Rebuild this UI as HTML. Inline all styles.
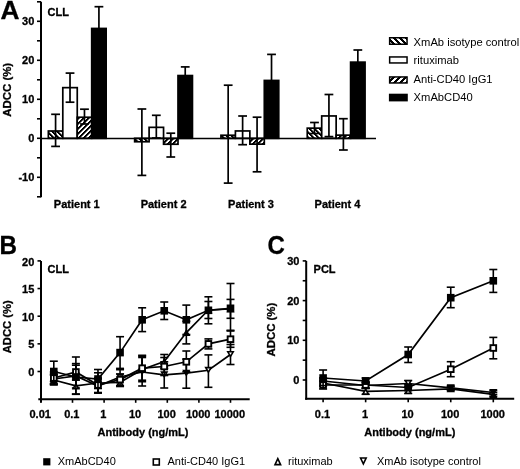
<!DOCTYPE html>
<html><head><meta charset="utf-8"><style>
html,body{margin:0;padding:0;background:#fff;}
svg{display:block;will-change:transform;}
text{font-family:"Liberation Sans", sans-serif;fill:#000;}
text[font-weight="bold"]{stroke:#000;stroke-width:0.3px;}
</style></head><body>
<svg width="520" height="469" viewBox="0 0 520 469">
<defs><pattern id="hb" patternUnits="userSpaceOnUse" x="0" y="0" width="5" height="5"><rect width="5" height="5" fill="#fff"/><rect x="-5" y="0" width="2.6" height="1" fill="#000"/><rect x="0" y="0" width="2.6" height="1" fill="#000"/><rect x="-4" y="1" width="2.6" height="1" fill="#000"/><rect x="1" y="1" width="2.6" height="1" fill="#000"/><rect x="-3" y="2" width="2.6" height="1" fill="#000"/><rect x="2" y="2" width="2.6" height="1" fill="#000"/><rect x="-2" y="3" width="2.6" height="1" fill="#000"/><rect x="3" y="3" width="2.6" height="1" fill="#000"/><rect x="-1" y="4" width="2.6" height="1" fill="#000"/><rect x="4" y="4" width="2.6" height="1" fill="#000"/></pattern><pattern id="hf" patternUnits="userSpaceOnUse" x="0" y="0" width="5" height="5"><rect width="5" height="5" fill="#fff"/><rect x="-5" y="0" width="2.6" height="1" fill="#000"/><rect x="0" y="0" width="2.6" height="1" fill="#000"/><rect x="-1" y="1" width="2.6" height="1" fill="#000"/><rect x="4" y="1" width="2.6" height="1" fill="#000"/><rect x="-2" y="2" width="2.6" height="1" fill="#000"/><rect x="3" y="2" width="2.6" height="1" fill="#000"/><rect x="-3" y="3" width="2.6" height="1" fill="#000"/><rect x="2" y="3" width="2.6" height="1" fill="#000"/><rect x="-4" y="4" width="2.6" height="1" fill="#000"/><rect x="1" y="4" width="2.6" height="1" fill="#000"/></pattern><pattern id="lb" patternUnits="userSpaceOnUse" x="1" y="0" width="6" height="6"><rect width="6" height="6" fill="#fff"/><rect x="-6" y="0" width="3" height="1" fill="#000"/><rect x="0" y="0" width="3" height="1" fill="#000"/><rect x="-5" y="1" width="3" height="1" fill="#000"/><rect x="1" y="1" width="3" height="1" fill="#000"/><rect x="-4" y="2" width="3" height="1" fill="#000"/><rect x="2" y="2" width="3" height="1" fill="#000"/><rect x="-3" y="3" width="3" height="1" fill="#000"/><rect x="3" y="3" width="3" height="1" fill="#000"/><rect x="-2" y="4" width="3" height="1" fill="#000"/><rect x="4" y="4" width="3" height="1" fill="#000"/><rect x="-1" y="5" width="3" height="1" fill="#000"/><rect x="5" y="5" width="3" height="1" fill="#000"/></pattern><pattern id="lf" patternUnits="userSpaceOnUse" x="1" y="0" width="6" height="6"><rect width="6" height="6" fill="#fff"/><rect x="-6" y="0" width="3" height="1" fill="#000"/><rect x="0" y="0" width="3" height="1" fill="#000"/><rect x="-1" y="1" width="3" height="1" fill="#000"/><rect x="5" y="1" width="3" height="1" fill="#000"/><rect x="-2" y="2" width="3" height="1" fill="#000"/><rect x="4" y="2" width="3" height="1" fill="#000"/><rect x="-3" y="3" width="3" height="1" fill="#000"/><rect x="3" y="3" width="3" height="1" fill="#000"/><rect x="-4" y="4" width="3" height="1" fill="#000"/><rect x="2" y="4" width="3" height="1" fill="#000"/><rect x="-5" y="5" width="3" height="1" fill="#000"/><rect x="1" y="5" width="3" height="1" fill="#000"/></pattern></defs>
<rect width="520" height="469" fill="#fff"/>
<text x="0.30" y="18.90" font-size="25.5" font-weight="bold" text-anchor="start" transform="translate(0.3,0) scale(1.03,1)">A</text>
<text x="47.60" y="15.80" font-size="11" font-weight="bold" text-anchor="start" >CLL</text>
<line x1="41.00" y1="1.80" x2="41.00" y2="197.30" stroke="#000" stroke-width="2.0"/>
<line x1="37.00" y1="1.80" x2="41.00" y2="1.80" stroke="#000" stroke-width="1.6"/>
<line x1="37.00" y1="21.30" x2="41.00" y2="21.30" stroke="#000" stroke-width="1.6"/>
<line x1="37.00" y1="40.80" x2="41.00" y2="40.80" stroke="#000" stroke-width="1.6"/>
<line x1="37.00" y1="60.30" x2="41.00" y2="60.30" stroke="#000" stroke-width="1.6"/>
<line x1="37.00" y1="79.80" x2="41.00" y2="79.80" stroke="#000" stroke-width="1.6"/>
<line x1="37.00" y1="99.30" x2="41.00" y2="99.30" stroke="#000" stroke-width="1.6"/>
<line x1="37.00" y1="118.80" x2="41.00" y2="118.80" stroke="#000" stroke-width="1.6"/>
<line x1="37.00" y1="138.30" x2="41.00" y2="138.30" stroke="#000" stroke-width="1.6"/>
<line x1="37.00" y1="157.80" x2="41.00" y2="157.80" stroke="#000" stroke-width="1.6"/>
<line x1="37.00" y1="177.30" x2="41.00" y2="177.30" stroke="#000" stroke-width="1.6"/>
<line x1="37.00" y1="196.80" x2="41.00" y2="196.80" stroke="#000" stroke-width="1.6"/>
<text x="34.30" y="25.20" font-size="11" font-weight="bold" text-anchor="end" >30</text>
<text x="34.30" y="64.20" font-size="11" font-weight="bold" text-anchor="end" >20</text>
<text x="34.30" y="103.20" font-size="11" font-weight="bold" text-anchor="end" >10</text>
<text x="34.30" y="142.20" font-size="11" font-weight="bold" text-anchor="end" >0</text>
<text x="34.30" y="181.20" font-size="11" font-weight="bold" text-anchor="end" >-10</text>
<text transform="translate(10.8,89.8) rotate(-90)" font-size="11.4" font-weight="bold" text-anchor="middle">ADCC (%)</text>
<rect x="48.35" y="131.00" width="14.45" height="7.30" fill="url(#hb)" stroke="#000" stroke-width="1.7"/>
<rect x="62.80" y="87.65" width="14.45" height="50.65" fill="#fff" stroke="#000" stroke-width="1.7"/>
<rect x="77.25" y="117.25" width="14.45" height="21.05" fill="url(#hf)" stroke="#000" stroke-width="1.7"/>
<rect x="91.70" y="28.45" width="14.45" height="109.85" fill="#000" stroke="#000" stroke-width="1.7"/>
<rect x="134.65" y="138.30" width="14.45" height="3.45" fill="url(#hb)" stroke="#000" stroke-width="1.7"/>
<rect x="149.10" y="127.35" width="14.45" height="10.95" fill="#fff" stroke="#000" stroke-width="1.7"/>
<rect x="163.55" y="138.30" width="14.45" height="5.95" fill="url(#hf)" stroke="#000" stroke-width="1.7"/>
<rect x="178.00" y="75.55" width="14.45" height="62.75" fill="#000" stroke="#000" stroke-width="1.7"/>
<rect x="220.95" y="135.25" width="14.45" height="3.05" fill="url(#hb)" stroke="#000" stroke-width="1.7"/>
<rect x="235.40" y="130.95" width="14.45" height="7.35" fill="#fff" stroke="#000" stroke-width="1.7"/>
<rect x="249.85" y="138.30" width="14.45" height="5.85" fill="url(#hf)" stroke="#000" stroke-width="1.7"/>
<rect x="264.30" y="80.45" width="14.45" height="57.85" fill="#000" stroke="#000" stroke-width="1.7"/>
<rect x="307.25" y="128.15" width="14.45" height="10.15" fill="url(#hb)" stroke="#000" stroke-width="1.7"/>
<rect x="321.70" y="115.95" width="14.45" height="22.35" fill="#fff" stroke="#000" stroke-width="1.7"/>
<rect x="336.15" y="135.15" width="14.45" height="3.15" fill="url(#hf)" stroke="#000" stroke-width="1.7"/>
<rect x="350.60" y="62.15" width="14.45" height="76.15" fill="#000" stroke="#000" stroke-width="1.7"/>
<line x1="55.58" y1="114.30" x2="55.58" y2="146.40" stroke="#000" stroke-width="1.7"/>
<line x1="51.18" y1="114.30" x2="59.98" y2="114.30" stroke="#000" stroke-width="1.7"/>
<line x1="51.18" y1="146.40" x2="59.98" y2="146.40" stroke="#000" stroke-width="1.7"/>
<line x1="70.02" y1="73.10" x2="70.02" y2="102.20" stroke="#000" stroke-width="1.7"/>
<line x1="65.62" y1="73.10" x2="74.42" y2="73.10" stroke="#000" stroke-width="1.7"/>
<line x1="65.62" y1="102.20" x2="74.42" y2="102.20" stroke="#000" stroke-width="1.7"/>
<line x1="84.47" y1="109.20" x2="84.47" y2="124.00" stroke="#000" stroke-width="1.7"/>
<line x1="80.07" y1="109.20" x2="88.88" y2="109.20" stroke="#000" stroke-width="1.7"/>
<line x1="80.07" y1="124.00" x2="88.88" y2="124.00" stroke="#000" stroke-width="1.7"/>
<line x1="98.92" y1="6.70" x2="98.92" y2="50.00" stroke="#000" stroke-width="1.7"/>
<line x1="94.52" y1="6.70" x2="103.32" y2="6.70" stroke="#000" stroke-width="1.7"/>
<line x1="94.52" y1="50.00" x2="103.32" y2="50.00" stroke="#000" stroke-width="1.7"/>
<line x1="141.88" y1="109.00" x2="141.88" y2="175.40" stroke="#000" stroke-width="1.7"/>
<line x1="137.47" y1="109.00" x2="146.28" y2="109.00" stroke="#000" stroke-width="1.7"/>
<line x1="137.47" y1="175.40" x2="146.28" y2="175.40" stroke="#000" stroke-width="1.7"/>
<line x1="156.32" y1="115.30" x2="156.32" y2="138.00" stroke="#000" stroke-width="1.7"/>
<line x1="151.92" y1="115.30" x2="160.72" y2="115.30" stroke="#000" stroke-width="1.7"/>
<line x1="151.92" y1="138.00" x2="160.72" y2="138.00" stroke="#000" stroke-width="1.7"/>
<line x1="170.78" y1="133.20" x2="170.78" y2="157.00" stroke="#000" stroke-width="1.7"/>
<line x1="166.38" y1="133.20" x2="175.18" y2="133.20" stroke="#000" stroke-width="1.7"/>
<line x1="166.38" y1="157.00" x2="175.18" y2="157.00" stroke="#000" stroke-width="1.7"/>
<line x1="185.22" y1="66.90" x2="185.22" y2="83.00" stroke="#000" stroke-width="1.7"/>
<line x1="180.82" y1="66.90" x2="189.62" y2="66.90" stroke="#000" stroke-width="1.7"/>
<line x1="180.82" y1="83.00" x2="189.62" y2="83.00" stroke="#000" stroke-width="1.7"/>
<line x1="228.17" y1="85.20" x2="228.17" y2="183.10" stroke="#000" stroke-width="1.7"/>
<line x1="223.77" y1="85.20" x2="232.57" y2="85.20" stroke="#000" stroke-width="1.7"/>
<line x1="223.77" y1="183.10" x2="232.57" y2="183.10" stroke="#000" stroke-width="1.7"/>
<line x1="242.62" y1="116.00" x2="242.62" y2="144.70" stroke="#000" stroke-width="1.7"/>
<line x1="238.22" y1="116.00" x2="247.02" y2="116.00" stroke="#000" stroke-width="1.7"/>
<line x1="238.22" y1="144.70" x2="247.02" y2="144.70" stroke="#000" stroke-width="1.7"/>
<line x1="257.07" y1="117.20" x2="257.07" y2="171.80" stroke="#000" stroke-width="1.7"/>
<line x1="252.67" y1="117.20" x2="261.47" y2="117.20" stroke="#000" stroke-width="1.7"/>
<line x1="252.67" y1="171.80" x2="261.47" y2="171.80" stroke="#000" stroke-width="1.7"/>
<line x1="271.52" y1="54.40" x2="271.52" y2="105.00" stroke="#000" stroke-width="1.7"/>
<line x1="267.12" y1="54.40" x2="275.92" y2="54.40" stroke="#000" stroke-width="1.7"/>
<line x1="267.12" y1="105.00" x2="275.92" y2="105.00" stroke="#000" stroke-width="1.7"/>
<line x1="314.48" y1="122.50" x2="314.48" y2="133.50" stroke="#000" stroke-width="1.7"/>
<line x1="310.08" y1="122.50" x2="318.88" y2="122.50" stroke="#000" stroke-width="1.7"/>
<line x1="310.08" y1="133.50" x2="318.88" y2="133.50" stroke="#000" stroke-width="1.7"/>
<line x1="328.93" y1="94.50" x2="328.93" y2="136.60" stroke="#000" stroke-width="1.7"/>
<line x1="324.53" y1="94.50" x2="333.32" y2="94.50" stroke="#000" stroke-width="1.7"/>
<line x1="324.53" y1="136.60" x2="333.32" y2="136.60" stroke="#000" stroke-width="1.7"/>
<line x1="343.38" y1="118.70" x2="343.38" y2="150.00" stroke="#000" stroke-width="1.7"/>
<line x1="338.98" y1="118.70" x2="347.77" y2="118.70" stroke="#000" stroke-width="1.7"/>
<line x1="338.98" y1="150.00" x2="347.77" y2="150.00" stroke="#000" stroke-width="1.7"/>
<line x1="357.83" y1="50.00" x2="357.83" y2="74.00" stroke="#000" stroke-width="1.7"/>
<line x1="353.43" y1="50.00" x2="362.23" y2="50.00" stroke="#000" stroke-width="1.7"/>
<line x1="353.43" y1="74.00" x2="362.23" y2="74.00" stroke="#000" stroke-width="1.7"/>
<line x1="41.00" y1="138.45" x2="376.00" y2="138.45" stroke="#000" stroke-width="1.6"/>
<text x="76.80" y="208.40" font-size="11" font-weight="bold" text-anchor="middle" >Patient 1</text>
<text x="163.60" y="208.40" font-size="11" font-weight="bold" text-anchor="middle" >Patient 2</text>
<text x="251.00" y="208.40" font-size="11" font-weight="bold" text-anchor="middle" >Patient 3</text>
<text x="337.50" y="208.40" font-size="11" font-weight="bold" text-anchor="middle" >Patient 4</text>
<rect x="389.65" y="37.75" width="17.40" height="6.50" fill="url(#lb)" stroke="#000" stroke-width="1.5"/>
<text x="413.60" y="46.00" font-size="11.2" font-weight="normal" text-anchor="start" >XmAb isotype control</text>
<rect x="389.65" y="56.95" width="17.40" height="6.00" fill="#fff" stroke="#000" stroke-width="1.5"/>
<text x="413.60" y="64.20" font-size="11.2" font-weight="normal" text-anchor="start" >rituximab</text>
<rect x="389.65" y="76.95" width="17.40" height="6.00" fill="url(#lf)" stroke="#000" stroke-width="1.5"/>
<text x="413.60" y="82.50" font-size="11.2" font-weight="normal" text-anchor="start" >Anti-CD40 IgG1</text>
<rect x="389.65" y="94.45" width="17.40" height="6.20" fill="#000" stroke="#000" stroke-width="1.5"/>
<text x="413.60" y="100.60" font-size="11.2" font-weight="normal" text-anchor="start" >XmAbCD40</text>
<text x="0.00" y="254.50" font-size="25.5" font-weight="bold" text-anchor="start" transform="translate(-0.4,0) scale(0.95,1)">B</text>
<text x="47.60" y="272.60" font-size="11" font-weight="bold" text-anchor="start" >CLL</text>
<line x1="41.00" y1="260.90" x2="41.00" y2="402.50" stroke="#000" stroke-width="2.0"/>
<line x1="37.50" y1="260.90" x2="41.00" y2="260.90" stroke="#000" stroke-width="1.6"/>
<text x="34.30" y="265.50" font-size="11" font-weight="bold" text-anchor="end" >20</text>
<line x1="37.50" y1="288.55" x2="41.00" y2="288.55" stroke="#000" stroke-width="1.6"/>
<text x="34.30" y="293.15" font-size="11" font-weight="bold" text-anchor="end" >15</text>
<line x1="37.50" y1="316.20" x2="41.00" y2="316.20" stroke="#000" stroke-width="1.6"/>
<text x="34.30" y="320.80" font-size="11" font-weight="bold" text-anchor="end" >10</text>
<line x1="37.50" y1="343.85" x2="41.00" y2="343.85" stroke="#000" stroke-width="1.6"/>
<text x="34.30" y="348.45" font-size="11" font-weight="bold" text-anchor="end" >5</text>
<line x1="37.50" y1="371.50" x2="41.00" y2="371.50" stroke="#000" stroke-width="1.6"/>
<text x="34.30" y="376.10" font-size="11" font-weight="bold" text-anchor="end" >0</text>
<line x1="38.30" y1="399.20" x2="249.70" y2="399.20" stroke="#000" stroke-width="2.0"/>
<line x1="40.90" y1="399.20" x2="40.90" y2="402.80" stroke="#000" stroke-width="1.6"/>
<text x="40.20" y="418.00" font-size="11" font-weight="bold" text-anchor="middle" >0.01</text>
<line x1="72.50" y1="399.20" x2="72.50" y2="402.80" stroke="#000" stroke-width="1.6"/>
<text x="71.80" y="418.00" font-size="11" font-weight="bold" text-anchor="middle" >0.1</text>
<line x1="104.10" y1="399.20" x2="104.10" y2="402.80" stroke="#000" stroke-width="1.6"/>
<text x="103.40" y="418.00" font-size="11" font-weight="bold" text-anchor="middle" >1</text>
<line x1="135.70" y1="399.20" x2="135.70" y2="402.80" stroke="#000" stroke-width="1.6"/>
<text x="135.00" y="418.00" font-size="11" font-weight="bold" text-anchor="middle" >10</text>
<line x1="167.30" y1="399.20" x2="167.30" y2="402.80" stroke="#000" stroke-width="1.6"/>
<text x="166.60" y="418.00" font-size="11" font-weight="bold" text-anchor="middle" >100</text>
<line x1="198.90" y1="399.20" x2="198.90" y2="402.80" stroke="#000" stroke-width="1.6"/>
<text x="198.20" y="418.00" font-size="11" font-weight="bold" text-anchor="middle" >1000</text>
<line x1="230.50" y1="399.20" x2="230.50" y2="402.80" stroke="#000" stroke-width="1.6"/>
<text x="229.80" y="418.00" font-size="11" font-weight="bold" text-anchor="middle" >10000</text>
<text x="143.00" y="435.50" font-size="11" font-weight="bold" text-anchor="middle" >Antibody (ng/mL)</text>
<text transform="translate(10.8,326.8) rotate(-90)" font-size="11.2" font-weight="bold" text-anchor="middle">ADCC (%)</text>
<line x1="53.80" y1="374.00" x2="53.80" y2="384.00" stroke="#000" stroke-width="1.6"/>
<line x1="49.80" y1="374.00" x2="57.80" y2="374.00" stroke="#000" stroke-width="1.6"/>
<line x1="49.80" y1="384.00" x2="57.80" y2="384.00" stroke="#000" stroke-width="1.6"/>
<line x1="75.89" y1="365.20" x2="75.89" y2="388.00" stroke="#000" stroke-width="1.6"/>
<line x1="71.89" y1="365.20" x2="79.89" y2="365.20" stroke="#000" stroke-width="1.6"/>
<line x1="71.89" y1="388.00" x2="79.89" y2="388.00" stroke="#000" stroke-width="1.6"/>
<line x1="97.98" y1="379.00" x2="97.98" y2="393.00" stroke="#000" stroke-width="1.6"/>
<line x1="93.98" y1="379.00" x2="101.98" y2="379.00" stroke="#000" stroke-width="1.6"/>
<line x1="93.98" y1="393.00" x2="101.98" y2="393.00" stroke="#000" stroke-width="1.6"/>
<line x1="120.06" y1="374.00" x2="120.06" y2="380.00" stroke="#000" stroke-width="1.6"/>
<line x1="116.06" y1="374.00" x2="124.06" y2="374.00" stroke="#000" stroke-width="1.6"/>
<line x1="116.06" y1="380.00" x2="124.06" y2="380.00" stroke="#000" stroke-width="1.6"/>
<line x1="142.15" y1="355.30" x2="142.15" y2="386.00" stroke="#000" stroke-width="1.6"/>
<line x1="138.15" y1="355.30" x2="146.15" y2="355.30" stroke="#000" stroke-width="1.6"/>
<line x1="138.15" y1="386.00" x2="146.15" y2="386.00" stroke="#000" stroke-width="1.6"/>
<line x1="164.24" y1="361.80" x2="164.24" y2="388.00" stroke="#000" stroke-width="1.6"/>
<line x1="160.24" y1="361.80" x2="168.24" y2="361.80" stroke="#000" stroke-width="1.6"/>
<line x1="160.24" y1="388.00" x2="168.24" y2="388.00" stroke="#000" stroke-width="1.6"/>
<line x1="186.33" y1="359.20" x2="186.33" y2="388.20" stroke="#000" stroke-width="1.6"/>
<line x1="182.33" y1="359.20" x2="190.33" y2="359.20" stroke="#000" stroke-width="1.6"/>
<line x1="182.33" y1="388.20" x2="190.33" y2="388.20" stroke="#000" stroke-width="1.6"/>
<line x1="208.41" y1="354.90" x2="208.41" y2="387.30" stroke="#000" stroke-width="1.6"/>
<line x1="204.41" y1="354.90" x2="212.41" y2="354.90" stroke="#000" stroke-width="1.6"/>
<line x1="204.41" y1="387.30" x2="212.41" y2="387.30" stroke="#000" stroke-width="1.6"/>
<line x1="230.50" y1="344.50" x2="230.50" y2="364.50" stroke="#000" stroke-width="1.6"/>
<line x1="226.50" y1="344.50" x2="234.50" y2="344.50" stroke="#000" stroke-width="1.6"/>
<line x1="226.50" y1="364.50" x2="234.50" y2="364.50" stroke="#000" stroke-width="1.6"/>
<polyline points="53.80,379.00 75.89,376.00 97.98,386.00 120.06,377.00 142.15,372.00 164.24,374.80 186.33,373.20 208.41,370.30 230.50,354.50" fill="none" stroke="#000" stroke-width="1.7"/>
<polygon points="53.80,380.91 56.50,376.31 51.10,376.31" fill="#fff" stroke="#000" stroke-width="1.6" stroke-linejoin="miter" stroke-miterlimit="10"/>
<polygon points="75.89,377.91 78.59,373.31 73.19,373.31" fill="#fff" stroke="#000" stroke-width="1.6" stroke-linejoin="miter" stroke-miterlimit="10"/>
<polygon points="97.98,387.91 100.68,383.31 95.28,383.31" fill="#fff" stroke="#000" stroke-width="1.6" stroke-linejoin="miter" stroke-miterlimit="10"/>
<polygon points="120.06,378.91 122.76,374.31 117.36,374.31" fill="#fff" stroke="#000" stroke-width="1.6" stroke-linejoin="miter" stroke-miterlimit="10"/>
<polygon points="142.15,373.91 144.85,369.31 139.45,369.31" fill="#fff" stroke="#000" stroke-width="1.6" stroke-linejoin="miter" stroke-miterlimit="10"/>
<polygon points="164.24,376.71 166.94,372.11 161.54,372.11" fill="#fff" stroke="#000" stroke-width="1.6" stroke-linejoin="miter" stroke-miterlimit="10"/>
<polygon points="186.33,375.11 189.03,370.51 183.63,370.51" fill="#000" stroke="#000" stroke-width="1.6" stroke-linejoin="miter" stroke-miterlimit="10"/>
<polygon points="208.41,372.21 211.11,367.61 205.71,367.61" fill="#fff" stroke="#000" stroke-width="1.6" stroke-linejoin="miter" stroke-miterlimit="10"/>
<polygon points="230.50,356.41 233.20,351.81 227.80,351.81" fill="#fff" stroke="#000" stroke-width="1.6" stroke-linejoin="miter" stroke-miterlimit="10"/>
<line x1="53.80" y1="375.00" x2="53.80" y2="385.00" stroke="#000" stroke-width="1.6"/>
<line x1="49.80" y1="375.00" x2="57.80" y2="375.00" stroke="#000" stroke-width="1.6"/>
<line x1="49.80" y1="385.00" x2="57.80" y2="385.00" stroke="#000" stroke-width="1.6"/>
<line x1="75.89" y1="377.50" x2="75.89" y2="394.30" stroke="#000" stroke-width="1.6"/>
<line x1="71.89" y1="377.50" x2="79.89" y2="377.50" stroke="#000" stroke-width="1.6"/>
<line x1="71.89" y1="394.30" x2="79.89" y2="394.30" stroke="#000" stroke-width="1.6"/>
<line x1="97.98" y1="372.80" x2="97.98" y2="393.00" stroke="#000" stroke-width="1.6"/>
<line x1="93.98" y1="372.80" x2="101.98" y2="372.80" stroke="#000" stroke-width="1.6"/>
<line x1="93.98" y1="393.00" x2="101.98" y2="393.00" stroke="#000" stroke-width="1.6"/>
<line x1="120.06" y1="379.50" x2="120.06" y2="386.50" stroke="#000" stroke-width="1.6"/>
<line x1="116.06" y1="379.50" x2="124.06" y2="379.50" stroke="#000" stroke-width="1.6"/>
<line x1="116.06" y1="386.50" x2="124.06" y2="386.50" stroke="#000" stroke-width="1.6"/>
<line x1="142.15" y1="357.50" x2="142.15" y2="381.70" stroke="#000" stroke-width="1.6"/>
<line x1="138.15" y1="357.50" x2="146.15" y2="357.50" stroke="#000" stroke-width="1.6"/>
<line x1="138.15" y1="381.70" x2="146.15" y2="381.70" stroke="#000" stroke-width="1.6"/>
<line x1="164.24" y1="354.50" x2="164.24" y2="368.50" stroke="#000" stroke-width="1.6"/>
<line x1="160.24" y1="354.50" x2="168.24" y2="354.50" stroke="#000" stroke-width="1.6"/>
<line x1="160.24" y1="368.50" x2="168.24" y2="368.50" stroke="#000" stroke-width="1.6"/>
<line x1="186.33" y1="321.30" x2="186.33" y2="343.90" stroke="#000" stroke-width="1.6"/>
<line x1="182.33" y1="321.30" x2="190.33" y2="321.30" stroke="#000" stroke-width="1.6"/>
<line x1="182.33" y1="343.90" x2="190.33" y2="343.90" stroke="#000" stroke-width="1.6"/>
<line x1="208.41" y1="301.50" x2="208.41" y2="318.50" stroke="#000" stroke-width="1.6"/>
<line x1="204.41" y1="301.50" x2="212.41" y2="301.50" stroke="#000" stroke-width="1.6"/>
<line x1="204.41" y1="318.50" x2="212.41" y2="318.50" stroke="#000" stroke-width="1.6"/>
<line x1="230.50" y1="299.40" x2="230.50" y2="318.30" stroke="#000" stroke-width="1.6"/>
<line x1="226.50" y1="299.40" x2="234.50" y2="299.40" stroke="#000" stroke-width="1.6"/>
<line x1="226.50" y1="318.30" x2="234.50" y2="318.30" stroke="#000" stroke-width="1.6"/>
<polyline points="53.80,380.00 75.89,385.90 97.98,383.00 120.06,382.50 142.15,369.50 164.24,361.50 186.33,332.60 208.41,310.00 230.50,309.00" fill="none" stroke="#000" stroke-width="1.7"/>
<polygon points="53.80,378.09 56.50,382.69 51.10,382.69" fill="#fff" stroke="#000" stroke-width="1.6" stroke-linejoin="miter" stroke-miterlimit="10"/>
<polygon points="75.89,383.99 78.59,388.59 73.19,388.59" fill="#fff" stroke="#000" stroke-width="1.6" stroke-linejoin="miter" stroke-miterlimit="10"/>
<polygon points="97.98,381.09 100.68,385.69 95.28,385.69" fill="#fff" stroke="#000" stroke-width="1.6" stroke-linejoin="miter" stroke-miterlimit="10"/>
<polygon points="120.06,380.59 122.76,385.19 117.36,385.19" fill="#fff" stroke="#000" stroke-width="1.6" stroke-linejoin="miter" stroke-miterlimit="10"/>
<polygon points="142.15,367.59 144.85,372.19 139.45,372.19" fill="#fff" stroke="#000" stroke-width="1.6" stroke-linejoin="miter" stroke-miterlimit="10"/>
<polygon points="164.24,359.59 166.94,364.19 161.54,364.19" fill="#fff" stroke="#000" stroke-width="1.6" stroke-linejoin="miter" stroke-miterlimit="10"/>
<polygon points="186.33,330.69 189.03,335.29 183.63,335.29" fill="#000" stroke="#000" stroke-width="1.6" stroke-linejoin="miter" stroke-miterlimit="10"/>
<polygon points="208.41,308.09 211.11,312.69 205.71,312.69" fill="#fff" stroke="#000" stroke-width="1.6" stroke-linejoin="miter" stroke-miterlimit="10"/>
<polygon points="230.50,307.09 233.20,311.69 227.80,311.69" fill="#fff" stroke="#000" stroke-width="1.6" stroke-linejoin="miter" stroke-miterlimit="10"/>
<line x1="53.80" y1="372.00" x2="53.80" y2="384.00" stroke="#000" stroke-width="1.6"/>
<line x1="49.80" y1="372.00" x2="57.80" y2="372.00" stroke="#000" stroke-width="1.6"/>
<line x1="49.80" y1="384.00" x2="57.80" y2="384.00" stroke="#000" stroke-width="1.6"/>
<line x1="75.89" y1="363.60" x2="75.89" y2="380.00" stroke="#000" stroke-width="1.6"/>
<line x1="71.89" y1="363.60" x2="79.89" y2="363.60" stroke="#000" stroke-width="1.6"/>
<line x1="71.89" y1="380.00" x2="79.89" y2="380.00" stroke="#000" stroke-width="1.6"/>
<line x1="97.98" y1="378.00" x2="97.98" y2="392.50" stroke="#000" stroke-width="1.6"/>
<line x1="93.98" y1="378.00" x2="101.98" y2="378.00" stroke="#000" stroke-width="1.6"/>
<line x1="93.98" y1="392.50" x2="101.98" y2="392.50" stroke="#000" stroke-width="1.6"/>
<line x1="120.06" y1="369.70" x2="120.06" y2="385.60" stroke="#000" stroke-width="1.6"/>
<line x1="116.06" y1="369.70" x2="124.06" y2="369.70" stroke="#000" stroke-width="1.6"/>
<line x1="116.06" y1="385.60" x2="124.06" y2="385.60" stroke="#000" stroke-width="1.6"/>
<line x1="142.15" y1="356.20" x2="142.15" y2="380.20" stroke="#000" stroke-width="1.6"/>
<line x1="138.15" y1="356.20" x2="146.15" y2="356.20" stroke="#000" stroke-width="1.6"/>
<line x1="138.15" y1="380.20" x2="146.15" y2="380.20" stroke="#000" stroke-width="1.6"/>
<line x1="164.24" y1="357.50" x2="164.24" y2="375.50" stroke="#000" stroke-width="1.6"/>
<line x1="160.24" y1="357.50" x2="168.24" y2="357.50" stroke="#000" stroke-width="1.6"/>
<line x1="160.24" y1="375.50" x2="168.24" y2="375.50" stroke="#000" stroke-width="1.6"/>
<line x1="186.33" y1="351.00" x2="186.33" y2="371.80" stroke="#000" stroke-width="1.6"/>
<line x1="182.33" y1="351.00" x2="190.33" y2="351.00" stroke="#000" stroke-width="1.6"/>
<line x1="182.33" y1="371.80" x2="190.33" y2="371.80" stroke="#000" stroke-width="1.6"/>
<line x1="208.41" y1="338.90" x2="208.41" y2="348.90" stroke="#000" stroke-width="1.6"/>
<line x1="204.41" y1="338.90" x2="212.41" y2="338.90" stroke="#000" stroke-width="1.6"/>
<line x1="204.41" y1="348.90" x2="212.41" y2="348.90" stroke="#000" stroke-width="1.6"/>
<line x1="230.50" y1="330.30" x2="230.50" y2="347.30" stroke="#000" stroke-width="1.6"/>
<line x1="226.50" y1="330.30" x2="234.50" y2="330.30" stroke="#000" stroke-width="1.6"/>
<line x1="226.50" y1="347.30" x2="234.50" y2="347.30" stroke="#000" stroke-width="1.6"/>
<polyline points="53.80,378.00 75.89,372.00 97.98,385.00 120.06,379.60 142.15,368.20 164.24,366.50 186.33,361.80 208.41,343.90 230.50,339.20" fill="none" stroke="#000" stroke-width="1.7"/>
<rect x="50.95" y="375.15" width="5.70" height="5.70" fill="#fff" stroke="#000" stroke-width="1.9"/>
<rect x="73.04" y="369.15" width="5.70" height="5.70" fill="#fff" stroke="#000" stroke-width="1.9"/>
<rect x="95.13" y="382.15" width="5.70" height="5.70" fill="#fff" stroke="#000" stroke-width="1.9"/>
<rect x="117.21" y="376.75" width="5.70" height="5.70" fill="#fff" stroke="#000" stroke-width="1.9"/>
<rect x="139.30" y="365.35" width="5.70" height="5.70" fill="#fff" stroke="#000" stroke-width="1.9"/>
<rect x="161.39" y="363.65" width="5.70" height="5.70" fill="#fff" stroke="#000" stroke-width="1.9"/>
<rect x="183.48" y="358.95" width="5.70" height="5.70" fill="#fff" stroke="#000" stroke-width="1.9"/>
<rect x="205.56" y="341.05" width="5.70" height="5.70" fill="#fff" stroke="#000" stroke-width="1.9"/>
<rect x="227.65" y="336.35" width="5.70" height="5.70" fill="#fff" stroke="#000" stroke-width="1.9"/>
<line x1="53.80" y1="361.20" x2="53.80" y2="381.50" stroke="#000" stroke-width="1.6"/>
<line x1="49.80" y1="361.20" x2="57.80" y2="361.20" stroke="#000" stroke-width="1.6"/>
<line x1="49.80" y1="381.50" x2="57.80" y2="381.50" stroke="#000" stroke-width="1.6"/>
<line x1="75.89" y1="357.00" x2="75.89" y2="394.00" stroke="#000" stroke-width="1.6"/>
<line x1="71.89" y1="357.00" x2="79.89" y2="357.00" stroke="#000" stroke-width="1.6"/>
<line x1="71.89" y1="394.00" x2="79.89" y2="394.00" stroke="#000" stroke-width="1.6"/>
<line x1="97.98" y1="369.50" x2="97.98" y2="388.50" stroke="#000" stroke-width="1.6"/>
<line x1="93.98" y1="369.50" x2="101.98" y2="369.50" stroke="#000" stroke-width="1.6"/>
<line x1="93.98" y1="388.50" x2="101.98" y2="388.50" stroke="#000" stroke-width="1.6"/>
<line x1="120.06" y1="336.70" x2="120.06" y2="368.40" stroke="#000" stroke-width="1.6"/>
<line x1="116.06" y1="336.70" x2="124.06" y2="336.70" stroke="#000" stroke-width="1.6"/>
<line x1="116.06" y1="368.40" x2="124.06" y2="368.40" stroke="#000" stroke-width="1.6"/>
<line x1="142.15" y1="307.80" x2="142.15" y2="331.60" stroke="#000" stroke-width="1.6"/>
<line x1="138.15" y1="307.80" x2="146.15" y2="307.80" stroke="#000" stroke-width="1.6"/>
<line x1="138.15" y1="331.60" x2="146.15" y2="331.60" stroke="#000" stroke-width="1.6"/>
<line x1="164.24" y1="302.00" x2="164.24" y2="319.50" stroke="#000" stroke-width="1.6"/>
<line x1="160.24" y1="302.00" x2="168.24" y2="302.00" stroke="#000" stroke-width="1.6"/>
<line x1="160.24" y1="319.50" x2="168.24" y2="319.50" stroke="#000" stroke-width="1.6"/>
<line x1="186.33" y1="305.10" x2="186.33" y2="334.50" stroke="#000" stroke-width="1.6"/>
<line x1="182.33" y1="305.10" x2="190.33" y2="305.10" stroke="#000" stroke-width="1.6"/>
<line x1="182.33" y1="334.50" x2="190.33" y2="334.50" stroke="#000" stroke-width="1.6"/>
<line x1="208.41" y1="296.80" x2="208.41" y2="323.80" stroke="#000" stroke-width="1.6"/>
<line x1="204.41" y1="296.80" x2="212.41" y2="296.80" stroke="#000" stroke-width="1.6"/>
<line x1="204.41" y1="323.80" x2="212.41" y2="323.80" stroke="#000" stroke-width="1.6"/>
<line x1="230.50" y1="283.50" x2="230.50" y2="331.00" stroke="#000" stroke-width="1.6"/>
<line x1="226.50" y1="283.50" x2="234.50" y2="283.50" stroke="#000" stroke-width="1.6"/>
<line x1="226.50" y1="331.00" x2="234.50" y2="331.00" stroke="#000" stroke-width="1.6"/>
<polyline points="53.80,371.50 75.89,377.00 97.98,379.00 120.06,352.60 142.15,319.80 164.24,310.80 186.33,319.80 208.41,310.30 230.50,308.30" fill="none" stroke="#000" stroke-width="1.7"/>
<rect x="50.00" y="367.70" width="7.60" height="7.60" fill="#000"/>
<rect x="72.09" y="373.20" width="7.60" height="7.60" fill="#000"/>
<rect x="94.18" y="375.20" width="7.60" height="7.60" fill="#000"/>
<rect x="116.26" y="348.80" width="7.60" height="7.60" fill="#000"/>
<rect x="138.35" y="316.00" width="7.60" height="7.60" fill="#000"/>
<rect x="160.44" y="307.00" width="7.60" height="7.60" fill="#000"/>
<rect x="182.53" y="316.00" width="7.60" height="7.60" fill="#000"/>
<rect x="204.61" y="306.50" width="7.60" height="7.60" fill="#000"/>
<rect x="226.70" y="304.50" width="7.60" height="7.60" fill="#000"/>
<text x="0.00" y="254.40" font-size="25.5" font-weight="bold" text-anchor="start" transform="translate(267.4,0) scale(0.94,1)">C</text>
<text x="313.60" y="272.50" font-size="11" font-weight="bold" text-anchor="start" >PCL</text>
<line x1="306.20" y1="260.90" x2="306.20" y2="399.75" stroke="#000" stroke-width="2.0"/>
<line x1="302.70" y1="260.90" x2="306.20" y2="260.90" stroke="#000" stroke-width="1.6"/>
<line x1="302.70" y1="280.75" x2="306.20" y2="280.75" stroke="#000" stroke-width="1.6"/>
<line x1="302.70" y1="300.60" x2="306.20" y2="300.60" stroke="#000" stroke-width="1.6"/>
<line x1="302.70" y1="320.45" x2="306.20" y2="320.45" stroke="#000" stroke-width="1.6"/>
<line x1="302.70" y1="340.30" x2="306.20" y2="340.30" stroke="#000" stroke-width="1.6"/>
<line x1="302.70" y1="360.15" x2="306.20" y2="360.15" stroke="#000" stroke-width="1.6"/>
<line x1="302.70" y1="380.00" x2="306.20" y2="380.00" stroke="#000" stroke-width="1.6"/>
<text x="299.40" y="264.80" font-size="11" font-weight="bold" text-anchor="end" >30</text>
<text x="299.40" y="304.50" font-size="11" font-weight="bold" text-anchor="end" >20</text>
<text x="299.40" y="344.20" font-size="11" font-weight="bold" text-anchor="end" >10</text>
<text x="299.40" y="383.90" font-size="11" font-weight="bold" text-anchor="end" >0</text>
<line x1="305.20" y1="398.75" x2="514.20" y2="398.75" stroke="#000" stroke-width="2.0"/>
<line x1="323.10" y1="398.75" x2="323.10" y2="402.30" stroke="#000" stroke-width="1.6"/>
<text x="322.50" y="418.10" font-size="11" font-weight="bold" text-anchor="middle" >0.1</text>
<line x1="365.65" y1="398.75" x2="365.65" y2="402.30" stroke="#000" stroke-width="1.6"/>
<text x="365.05" y="418.10" font-size="11" font-weight="bold" text-anchor="middle" >1</text>
<line x1="408.20" y1="398.75" x2="408.20" y2="402.30" stroke="#000" stroke-width="1.6"/>
<text x="407.60" y="418.10" font-size="11" font-weight="bold" text-anchor="middle" >10</text>
<line x1="450.75" y1="398.75" x2="450.75" y2="402.30" stroke="#000" stroke-width="1.6"/>
<text x="450.15" y="418.10" font-size="11" font-weight="bold" text-anchor="middle" >100</text>
<line x1="493.30" y1="398.75" x2="493.30" y2="402.30" stroke="#000" stroke-width="1.6"/>
<text x="492.70" y="418.10" font-size="11" font-weight="bold" text-anchor="middle" >1000</text>
<text x="409.80" y="435.80" font-size="11" font-weight="bold" text-anchor="middle" >Antibody (ng/mL)</text>
<text transform="translate(275.2,329.6) rotate(-90)" font-size="11.4" font-weight="bold" text-anchor="middle">ADCC (%)</text>
<line x1="323.10" y1="378.00" x2="323.10" y2="384.00" stroke="#000" stroke-width="1.6"/>
<line x1="319.10" y1="378.00" x2="327.10" y2="378.00" stroke="#000" stroke-width="1.6"/>
<line x1="319.10" y1="384.00" x2="327.10" y2="384.00" stroke="#000" stroke-width="1.6"/>
<line x1="365.65" y1="382.50" x2="365.65" y2="388.50" stroke="#000" stroke-width="1.6"/>
<line x1="361.65" y1="382.50" x2="369.65" y2="382.50" stroke="#000" stroke-width="1.6"/>
<line x1="361.65" y1="388.50" x2="369.65" y2="388.50" stroke="#000" stroke-width="1.6"/>
<line x1="408.20" y1="380.50" x2="408.20" y2="386.50" stroke="#000" stroke-width="1.6"/>
<line x1="404.20" y1="380.50" x2="412.20" y2="380.50" stroke="#000" stroke-width="1.6"/>
<line x1="404.20" y1="386.50" x2="412.20" y2="386.50" stroke="#000" stroke-width="1.6"/>
<line x1="450.75" y1="385.80" x2="450.75" y2="389.80" stroke="#000" stroke-width="1.6"/>
<line x1="446.75" y1="385.80" x2="454.75" y2="385.80" stroke="#000" stroke-width="1.6"/>
<line x1="446.75" y1="389.80" x2="454.75" y2="389.80" stroke="#000" stroke-width="1.6"/>
<line x1="493.30" y1="390.50" x2="493.30" y2="394.50" stroke="#000" stroke-width="1.6"/>
<line x1="489.30" y1="390.50" x2="497.30" y2="390.50" stroke="#000" stroke-width="1.6"/>
<line x1="489.30" y1="394.50" x2="497.30" y2="394.50" stroke="#000" stroke-width="1.6"/>
<polyline points="323.10,381.00 365.65,385.50 408.20,383.50 450.75,387.80 493.30,392.50" fill="none" stroke="#000" stroke-width="1.7"/>
<polygon points="323.10,382.91 325.80,378.31 320.40,378.31" fill="#fff" stroke="#000" stroke-width="1.6" stroke-linejoin="miter" stroke-miterlimit="10"/>
<polygon points="365.65,387.41 368.35,382.81 362.95,382.81" fill="#fff" stroke="#000" stroke-width="1.6" stroke-linejoin="miter" stroke-miterlimit="10"/>
<polygon points="408.20,385.41 410.90,380.81 405.50,380.81" fill="#fff" stroke="#000" stroke-width="1.6" stroke-linejoin="miter" stroke-miterlimit="10"/>
<polygon points="450.75,389.71 453.45,385.11 448.05,385.11" fill="#000" stroke="#000" stroke-width="1.6" stroke-linejoin="miter" stroke-miterlimit="10"/>
<polygon points="493.30,394.41 496.00,389.81 490.60,389.81" fill="#000" stroke="#000" stroke-width="1.6" stroke-linejoin="miter" stroke-miterlimit="10"/>
<line x1="323.10" y1="380.00" x2="323.10" y2="386.00" stroke="#000" stroke-width="1.6"/>
<line x1="319.10" y1="380.00" x2="327.10" y2="380.00" stroke="#000" stroke-width="1.6"/>
<line x1="319.10" y1="386.00" x2="327.10" y2="386.00" stroke="#000" stroke-width="1.6"/>
<line x1="365.65" y1="388.30" x2="365.65" y2="394.30" stroke="#000" stroke-width="1.6"/>
<line x1="361.65" y1="388.30" x2="369.65" y2="388.30" stroke="#000" stroke-width="1.6"/>
<line x1="361.65" y1="394.30" x2="369.65" y2="394.30" stroke="#000" stroke-width="1.6"/>
<line x1="408.20" y1="387.50" x2="408.20" y2="393.50" stroke="#000" stroke-width="1.6"/>
<line x1="404.20" y1="387.50" x2="412.20" y2="387.50" stroke="#000" stroke-width="1.6"/>
<line x1="404.20" y1="393.50" x2="412.20" y2="393.50" stroke="#000" stroke-width="1.6"/>
<line x1="450.75" y1="386.80" x2="450.75" y2="390.80" stroke="#000" stroke-width="1.6"/>
<line x1="446.75" y1="386.80" x2="454.75" y2="386.80" stroke="#000" stroke-width="1.6"/>
<line x1="446.75" y1="390.80" x2="454.75" y2="390.80" stroke="#000" stroke-width="1.6"/>
<line x1="493.30" y1="392.40" x2="493.30" y2="396.40" stroke="#000" stroke-width="1.6"/>
<line x1="489.30" y1="392.40" x2="497.30" y2="392.40" stroke="#000" stroke-width="1.6"/>
<line x1="489.30" y1="396.40" x2="497.30" y2="396.40" stroke="#000" stroke-width="1.6"/>
<polyline points="323.10,383.00 365.65,391.30 408.20,390.50 450.75,388.80 493.30,394.40" fill="none" stroke="#000" stroke-width="1.7"/>
<polygon points="323.10,381.09 325.80,385.69 320.40,385.69" fill="#fff" stroke="#000" stroke-width="1.6" stroke-linejoin="miter" stroke-miterlimit="10"/>
<polygon points="365.65,389.39 368.35,393.99 362.95,393.99" fill="#fff" stroke="#000" stroke-width="1.6" stroke-linejoin="miter" stroke-miterlimit="10"/>
<polygon points="408.20,388.59 410.90,393.19 405.50,393.19" fill="#fff" stroke="#000" stroke-width="1.6" stroke-linejoin="miter" stroke-miterlimit="10"/>
<polygon points="450.75,386.89 453.45,391.49 448.05,391.49" fill="#000" stroke="#000" stroke-width="1.6" stroke-linejoin="miter" stroke-miterlimit="10"/>
<polygon points="493.30,392.49 496.00,397.09 490.60,397.09" fill="#000" stroke="#000" stroke-width="1.6" stroke-linejoin="miter" stroke-miterlimit="10"/>
<line x1="323.10" y1="381.00" x2="323.10" y2="389.00" stroke="#000" stroke-width="1.6"/>
<line x1="319.10" y1="381.00" x2="327.10" y2="381.00" stroke="#000" stroke-width="1.6"/>
<line x1="319.10" y1="389.00" x2="327.10" y2="389.00" stroke="#000" stroke-width="1.6"/>
<line x1="365.65" y1="382.00" x2="365.65" y2="388.00" stroke="#000" stroke-width="1.6"/>
<line x1="361.65" y1="382.00" x2="369.65" y2="382.00" stroke="#000" stroke-width="1.6"/>
<line x1="361.65" y1="388.00" x2="369.65" y2="388.00" stroke="#000" stroke-width="1.6"/>
<line x1="408.20" y1="384.50" x2="408.20" y2="390.50" stroke="#000" stroke-width="1.6"/>
<line x1="404.20" y1="384.50" x2="412.20" y2="384.50" stroke="#000" stroke-width="1.6"/>
<line x1="404.20" y1="390.50" x2="412.20" y2="390.50" stroke="#000" stroke-width="1.6"/>
<line x1="450.75" y1="361.70" x2="450.75" y2="376.70" stroke="#000" stroke-width="1.6"/>
<line x1="446.75" y1="361.70" x2="454.75" y2="361.70" stroke="#000" stroke-width="1.6"/>
<line x1="446.75" y1="376.70" x2="454.75" y2="376.70" stroke="#000" stroke-width="1.6"/>
<line x1="493.30" y1="337.40" x2="493.30" y2="358.80" stroke="#000" stroke-width="1.6"/>
<line x1="489.30" y1="337.40" x2="497.30" y2="337.40" stroke="#000" stroke-width="1.6"/>
<line x1="489.30" y1="358.80" x2="497.30" y2="358.80" stroke="#000" stroke-width="1.6"/>
<polyline points="323.10,385.00 365.65,385.00 408.20,387.50 450.75,369.20 493.30,348.00" fill="none" stroke="#000" stroke-width="1.7"/>
<rect x="320.25" y="382.15" width="5.70" height="5.70" fill="#fff" stroke="#000" stroke-width="1.9"/>
<rect x="362.80" y="382.15" width="5.70" height="5.70" fill="#fff" stroke="#000" stroke-width="1.9"/>
<rect x="405.35" y="384.65" width="5.70" height="5.70" fill="#fff" stroke="#000" stroke-width="1.9"/>
<rect x="447.90" y="366.35" width="5.70" height="5.70" fill="#fff" stroke="#000" stroke-width="1.9"/>
<rect x="490.45" y="345.15" width="5.70" height="5.70" fill="#fff" stroke="#000" stroke-width="1.9"/>
<line x1="323.10" y1="370.00" x2="323.10" y2="382.00" stroke="#000" stroke-width="1.6"/>
<line x1="319.10" y1="370.00" x2="327.10" y2="370.00" stroke="#000" stroke-width="1.6"/>
<line x1="319.10" y1="382.00" x2="327.10" y2="382.00" stroke="#000" stroke-width="1.6"/>
<line x1="365.65" y1="378.00" x2="365.65" y2="384.00" stroke="#000" stroke-width="1.6"/>
<line x1="361.65" y1="378.00" x2="369.65" y2="378.00" stroke="#000" stroke-width="1.6"/>
<line x1="361.65" y1="384.00" x2="369.65" y2="384.00" stroke="#000" stroke-width="1.6"/>
<line x1="408.20" y1="347.00" x2="408.20" y2="362.50" stroke="#000" stroke-width="1.6"/>
<line x1="404.20" y1="347.00" x2="412.20" y2="347.00" stroke="#000" stroke-width="1.6"/>
<line x1="404.20" y1="362.50" x2="412.20" y2="362.50" stroke="#000" stroke-width="1.6"/>
<line x1="450.75" y1="287.20" x2="450.75" y2="307.70" stroke="#000" stroke-width="1.6"/>
<line x1="446.75" y1="287.20" x2="454.75" y2="287.20" stroke="#000" stroke-width="1.6"/>
<line x1="446.75" y1="307.70" x2="454.75" y2="307.70" stroke="#000" stroke-width="1.6"/>
<line x1="493.30" y1="269.50" x2="493.30" y2="292.40" stroke="#000" stroke-width="1.6"/>
<line x1="489.30" y1="269.50" x2="497.30" y2="269.50" stroke="#000" stroke-width="1.6"/>
<line x1="489.30" y1="292.40" x2="497.30" y2="292.40" stroke="#000" stroke-width="1.6"/>
<polyline points="323.10,378.00 365.65,381.00 408.20,354.50 450.75,297.70 493.30,280.80" fill="none" stroke="#000" stroke-width="1.7"/>
<rect x="319.30" y="374.20" width="7.60" height="7.60" fill="#000"/>
<rect x="361.85" y="377.20" width="7.60" height="7.60" fill="#000"/>
<rect x="404.40" y="350.70" width="7.60" height="7.60" fill="#000"/>
<rect x="446.95" y="293.90" width="7.60" height="7.60" fill="#000"/>
<rect x="489.50" y="277.00" width="7.60" height="7.60" fill="#000"/>
<rect x="405.00" y="384.30" width="6.4" height="6.4" fill="#000"/>
<line x1="319.60" y1="385.60" x2="326.60" y2="385.60" stroke="#000" stroke-width="1.6"/>
<line x1="323.10" y1="382.00" x2="323.10" y2="388.00" stroke="#000" stroke-width="1.6"/>
<rect x="43.2" y="458.2" width="7.2" height="7.2" fill="#000"/>
<text x="57.70" y="465.30" font-size="11" font-weight="normal" text-anchor="start" >XmAbCD40</text>
<rect x="153.3" y="459.0" width="6" height="6" fill="#fff" stroke="#000" stroke-width="1.6"/>
<text x="167.50" y="465.30" font-size="11" font-weight="normal" text-anchor="start" >Anti-CD40 IgG1</text>
<polygon points="277.8,458.7 280.6,464.6 275.0,464.6" fill="#fff" stroke="#000" stroke-width="1.6" stroke-miterlimit="10"/>
<text x="288.10" y="465.30" font-size="11" font-weight="normal" text-anchor="start" >rituximab</text>
<polygon points="363.35,463.9 366.15,458.0 360.55,458.0" fill="#fff" stroke="#000" stroke-width="1.6" stroke-miterlimit="10"/>
<text x="377.00" y="465.30" font-size="11" font-weight="normal" text-anchor="start" >XmAb isotype control</text>
</svg>
</body></html>
